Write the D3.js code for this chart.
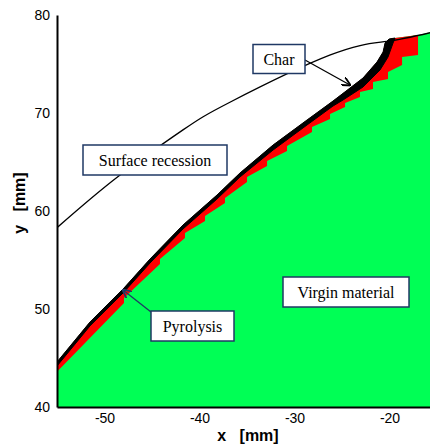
<!DOCTYPE html>
<html>
<head>
<meta charset="utf-8">
<script src="https://cdn.jsdelivr.net/npm/d3@7"></script>
<style>
body { margin: 0; background: #fff; }
svg text { font-family: "Liberation Sans", Arial, sans-serif; white-space: pre; }
.box text { font-family: "Liberation Serif", "Times New Roman", serif; font-size: 16px; }
</style>
</head>
<body>
<svg id="chart" width="430" height="447"></svg>
<script>
// ablation front data (x, y in mm)
const surfaceX = [-55, -48.6, -41.7, -36.8, -26.3, -20.3, -15.7];
const surfaceY = [58.3, 63.5, 68.3, 71.1, 75.9, 77.3, 78.2];

// outer char surface, left to right
const charOuterX = [-55, -51.53, -47.95, -45.21, -41.74, -38.16, -35.74, -32.26, -28.68, -25.95, -24.16, -22.79, -21.32, -20.68, -20.47, -20.05];
const charOuterY = [44.59, 48.67, 52.14, 55.10, 58.57, 61.63, 63.88, 66.73, 69.29, 71.22, 72.55, 73.57, 75.20, 76.22, 77.14, 77.55];

// char / pyrolysis interface
const charInnerX = [-55, -51.53, -47.95, -45.21, -41.74, -38.16, -35.74, -32.26, -28.68, -25.95, -24.89, -22.79, -21.0, -20.16, -19.63, -19.42];
const charInnerY = [44.18, 48.27, 51.73, 54.69, 58.16, 61.22, 63.47, 66.22, 68.78, 70.71, 71.33, 72.65, 74.39, 75.71, 77.14, 77.65];

// top of material beyond the char tip (follows the recessed surface)
const topX = [-19.42, -17.0, -15.7];
const topY = [77.65, 77.96, 78.25];

// pyrolysis front (stair steps of the mesh)
const pyroX = [-55, -47.95, -47.95, -44.16, -44.16, -41.53, -41.53, -39.42, -39.42, -37.32, -37.32, -35.0, -35.0, -32.89, -32.89, -30.79, -30.79, -28.16, -28.16, -26.26, -26.26, -24.68, -24.68, -23.11, -23.11, -21.74, -21.74, -20.16, -20.16, -18.68, -18.68, -17.0, -17.0];
const pyroY = [43.6, 50.62, 51.13, 54.60, 55.11, 57.25, 57.76, 58.98, 59.49, 60.82, 61.33, 62.96, 63.47, 64.60, 65.11, 66.13, 66.64, 68.07, 68.58, 69.39, 69.90, 70.61, 71.02, 71.63, 72.14, 72.45, 73.16, 73.47, 74.18, 74.90, 75.71, 75.92, 77.96];

const xTicks = [-50, -40, -30, -20];
const yTicks = [40, 50, 60, 70, 80];

const labels = [
  {text: "Char", cx: 279, cy: 59, w: 52, h: 29},
  {text: "Surface recession", cx: 155, cy: 160, w: 144, h: 30},
  {text: "Pyrolysis", cx: 192.5, cy: 326, w: 83, h: 30},
  {text: "Virgin material", cx: 346, cy: 292, w: 126, h: 30}
];

const zip = (xs, ys) => xs.map((v, i) => [v, ys[i]]);

const svg = d3.select("#chart");
const mLeft = 57, mRight = 430, mTop = 15, mBottom = 407;

const x = d3.scaleLinear().domain([-55, -15.74]).range([mLeft, mRight]);
const y = d3.scaleLinear().domain([40, 80]).range([mBottom, mTop]);

svg.append("clipPath").attr("id", "plot")
  .append("rect").attr("x", mLeft).attr("y", mTop - 10).attr("width", mRight - mLeft).attr("height", mBottom - mTop + 10);

const g = svg.append("g").attr("clip-path", "url(#plot)");
const line = d3.line().x(d => x(d[0])).y(d => y(d[1]));

const outer = zip(charOuterX, charOuterY);
const inner = zip(charInnerX, charInnerY);
const topEdge = zip(topX, topY);
const pyro = zip(pyroX, pyroY);

// virgin material (everything below the outer surface)
g.append("path")
  .attr("d", line(outer.concat(topEdge, [[-15.7, 40], [-55, 40]])) + "Z")
  .attr("fill", "#00ff55");

// pyrolysis zone
g.append("path")
  .attr("d", line(outer.concat(topEdge.slice(0, 2), pyro.slice().reverse())) + "Z")
  .attr("fill", "#ff0000");

// char layer
g.append("path")
  .attr("d", line(outer.concat(inner.slice().reverse())) + "Z")
  .attr("fill", "#000")
  .attr("stroke", "#000").attr("stroke-width", 1);

// surface recession
g.append("path")
  .attr("d", d3.line().x(d => x(d[0])).y(d => y(d[1])).curve(d3.curveNatural)(zip(surfaceX, surfaceY)))
  .attr("fill", "none").attr("stroke", "#000").attr("stroke-width", 1.3);

// axes
const xAxis = svg.append("g").attr("transform", `translate(0,${mBottom})`)
  .call(d3.axisBottom(x).tickValues(xTicks).tickFormat(d => String(d)).tickSize(0).tickPadding(5));
const yAxis = svg.append("g").attr("transform", `translate(${mLeft},0)`)
  .call(d3.axisLeft(y).tickValues(yTicks).tickFormat(d => String(d)).tickSize(0).tickPadding(7));
[xAxis, yAxis].forEach(a => {
  a.select(".domain").attr("stroke", "#000").attr("stroke-width", 2);
  a.selectAll("text").attr("font-size", 14).attr("fill", "#000")
    .attr("font-family", "Liberation Sans, Arial, sans-serif");
});
xAxis.selectAll(".tick text").attr("dy", "0.8em");

svg.append("text").attr("x", 248).attr("y", 441).attr("text-anchor", "middle")
  .attr("font-size", 16).attr("font-weight", "bold").text("x   [mm]");
svg.append("text").attr("transform", "translate(25,203) rotate(-90)").attr("text-anchor", "middle")
  .attr("font-size", 16).attr("font-weight", "bold").text("y   [mm]");

// arrows
const defs = svg.append("defs");
[["headBlack", "#000"], ["headNavy", "#1f3864"]].forEach(([id, c]) => {
  defs.append("marker").attr("id", id).attr("viewBox", "0 0 10 10")
    .attr("refX", 9).attr("refY", 5).attr("markerWidth", 9).attr("markerHeight", 9)
    .attr("markerUnits", "userSpaceOnUse").attr("orient", "auto")
    .append("path").attr("d", "M0,0 L10,5 L0,10").attr("fill", "none")
    .attr("stroke", c).attr("stroke-width", 2);
});
svg.append("line").attr("x1", 305).attr("y1", 60).attr("x2", 350).attr("y2", 85)
  .attr("stroke", "#000").attr("stroke-width", 1.3).attr("marker-end", "url(#headBlack)");
svg.append("line").attr("x1", 151).attr("y1", 312).attr("x2", 123).attr("y2", 290)
  .attr("stroke", "#1f3864").attr("stroke-width", 1.3).attr("marker-end", "url(#headNavy)");

// text boxes
const box = svg.selectAll(".box").data(labels).enter().append("g").attr("class", "box");
box.append("rect")
  .attr("x", d => d.cx - d.w / 2).attr("y", d => d.cy - d.h / 2)
  .attr("width", d => d.w).attr("height", d => d.h)
  .attr("fill", "#fff").attr("stroke", "#1f3864").attr("stroke-width", 1.5);
box.append("text").attr("x", d => d.cx).attr("y", d => d.cy + 5.5)
  .attr("text-anchor", "middle").attr("fill", "#000").text(d => d.text);
</script>
</body>
</html>
